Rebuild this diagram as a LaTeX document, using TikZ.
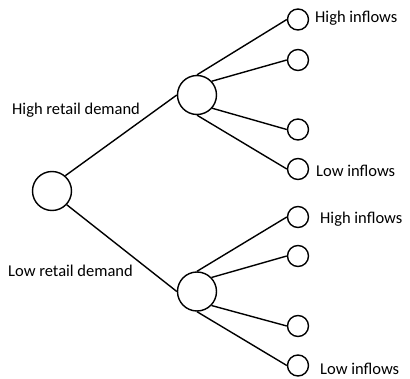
\documentclass[tikz,border=0pt]{standalone}
\usepackage{fontspec}
\setmainfont{Carlito}
\begin{document}
\begin{tikzpicture}[x=1pt,y=1pt,
  big/.style={circle,draw,line width=1.4pt,minimum size=39pt,inner sep=0pt},
  leaf/.style={circle,draw,line width=1.4pt,minimum size=21pt,inner sep=0pt},
  edge/.style={line width=1.4pt},
  lbl/.style={anchor=base west,inner sep=0pt,font=\fontsize{16.5}{19}\selectfont}]
\useasboundingbox (0,0) rectangle (410,378);
\node[big] (root) at (52,187) {};
\node[big] (up) at (197,283) {};
\node[big] (lo) at (197,86.5) {};
\node[leaf] (u1) at (298,358.5) {};
\node[leaf] (u2) at (298,318) {};
\node[leaf] (u3) at (298,248.5) {};
\node[leaf] (u4) at (298,209) {};
\node[leaf] (l1) at (298,161) {};
\node[leaf] (l2) at (298,122) {};
\node[leaf] (l3) at (298,52) {};
\node[leaf] (l4) at (298,12.5) {};
\draw[edge] (root.49) -- (up.west);
\draw[edge] (root.-43) -- (lo.west);
\draw[edge] (up.north) -- (u1.west);
\draw[edge] (up.43) -- (u2.west);
\draw[edge] (up.-41) -- (u3.west);
\draw[edge] (up.south) -- (u4.west);
\draw[edge] (lo.north) -- (l1.west);
\draw[edge] (lo.44) -- (l2.west);
\draw[edge] (lo.-44) -- (l3.west);
\draw[edge] (lo.south) -- (l4.west);
\node[lbl] (t1) at (315,355) {High inflows};
\node[lbl] (t2) at (316,201) {Low inflows};
\node[lbl] (t3) at (320,154) {High inflows};
\node[lbl] (t4) at (320,3.5) {Low inflows};
\node[lbl] (t5) at (12,263) {High retail demand};
\node[lbl] (t6) at (8,101) {Low retail demand};
\end{tikzpicture}
\end{document}
